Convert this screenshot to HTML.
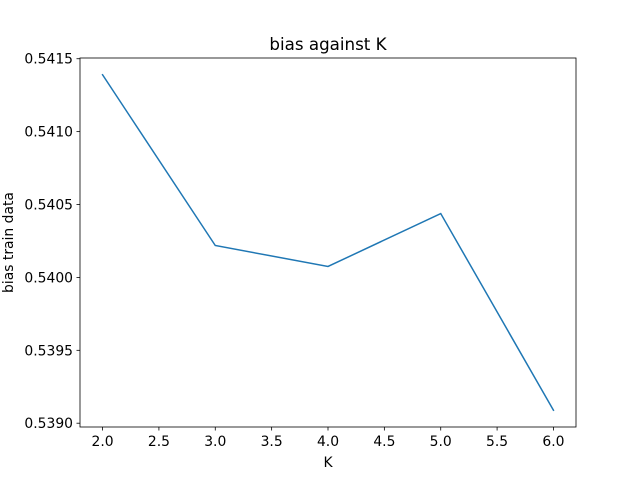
<!DOCTYPE html>
<html><head><meta charset="utf-8"><style>body{margin:0;background:#fff}svg{display:block}text{font-family:"DejaVu Sans","Liberation Sans",sans-serif;fill:#000}</style></head>
<body>
<svg id="chart" width="640" height="480" xmlns="http://www.w3.org/2000/svg">
<rect x="0" y="0" width="640" height="480" fill="#fff"/>
<g id="axes"></g>
</svg>
<script>
const categories = [2, 3, 4, 5, 6];
const biasValues = [0.541390, 0.540219, 0.540075, 0.540438, 0.539089];
const xTicks = [2.0, 2.5, 3.0, 3.5, 4.0, 4.5, 5.0, 5.5, 6.0];
const yTicks = [0.5390, 0.5395, 0.5400, 0.5405, 0.5410, 0.5415];

const L=80,R=576,T=58,B=427;
const xMin=1.8,xMax=6.2;
const yMin=0.538974,yMax=0.541505;
const xs=v=>L+(v-xMin)/(xMax-xMin)*(R-L);
const ys=v=>B-(v-yMin)/(yMax-yMin)*(B-T);
const NS='http://www.w3.org/2000/svg';
const g=document.getElementById('axes');
function mk(tag,attrs,text){const e=document.createElementNS(NS,tag);for(const k in attrs)e.setAttribute(k,attrs[k]);if(text!==undefined)e.textContent=text;g.appendChild(e);return e;}

const pts=categories.map((c,i)=>xs(c).toFixed(2)+','+ys(biasValues[i]).toFixed(2)).join(' ');
const line=mk('polyline',{points:pts,fill:'none',stroke:'#1f77b4','stroke-width':1.5,'stroke-linecap':'square'});



const frame=mk('rect',{x:L,y:T,width:R-L,height:B-T,fill:'none',stroke:'#000','stroke-width':0.8});



xTicks.forEach(t=>{
  const x=xs(t);
  const tk=mk('line',{x1:x,x2:x,y1:B,y2:B+3.5,stroke:'#000','stroke-width':0.8});
  
  
  const lb=mk('text',{x:x,y:B+19,'text-anchor':'middle','font-size':13.9},t.toFixed(1));
  
  
});
yTicks.forEach(t=>{
  const y=ys(t);
  const tk=mk('line',{x1:L-3.5,x2:L,y1:y,y2:y,stroke:'#000','stroke-width':0.8});
  
  
  const lb=mk('text',{x:L-7,y:y+5,'text-anchor':'end','font-size':13.9},t.toFixed(4));
  
  
});
const title=mk('text',{x:(L+R)/2,y:T-8,'text-anchor':'middle','font-size':16.7},'bias against K');


const xl=mk('text',{x:(L+R)/2,y:467,'text-anchor':'middle','font-size':13.9},'K');


const yl=mk('text',{x:0,y:0,'text-anchor':'middle','font-size':13.9,transform:'translate(13,'+((T+B)/2)+') rotate(-90)'},'bias train data');


</script>
</body></html>
